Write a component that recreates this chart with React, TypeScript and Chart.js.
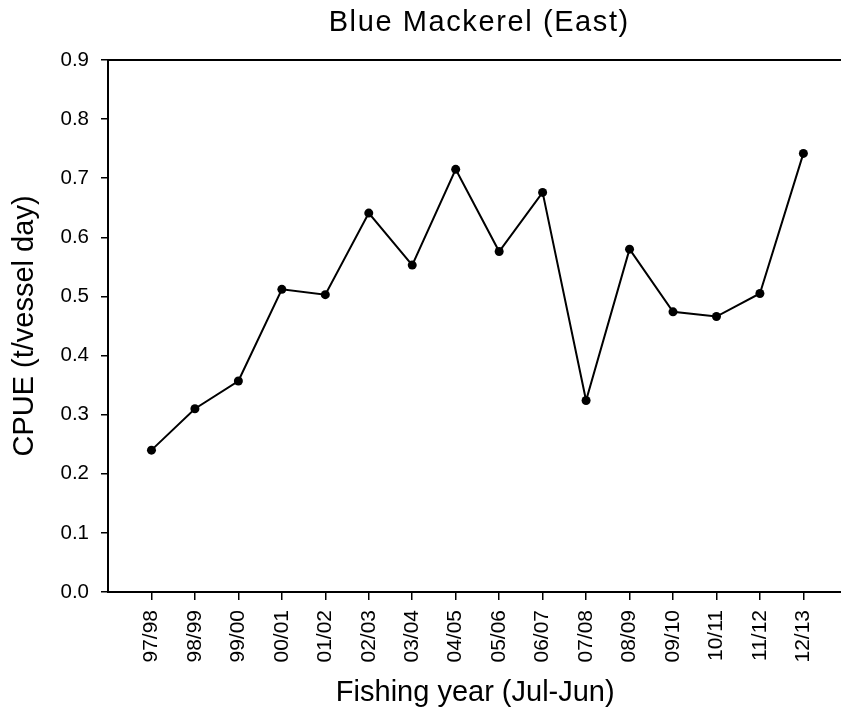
import React, { useEffect, useRef } from "react";
import { Chart, registerables } from "chart.js";

Chart.register(...registerables);

const TITLE = "Blue Mackerel (East)";
const X_TITLE = "Fishing year (Jul-Jun)";
const Y_TITLE = "CPUE (t/vessel day)";

const categories = [
  "97/98", "98/99", "99/00", "00/01", "01/02", "02/03", "03/04", "04/05",
  "05/06", "06/07", "07/08", "08/09", "09/10", "10/11", "11/12", "12/13",
];

const cpue = [
  0.240, 0.310, 0.357, 0.512, 0.503, 0.641, 0.553, 0.715,
  0.576, 0.676, 0.324, 0.580, 0.474, 0.466, 0.505, 0.742,
];

const yTicks = [0, 0.1, 0.2, 0.3, 0.4, 0.5, 0.6, 0.7, 0.8, 0.9];

const FONT = '"Liberation Sans", Arial, sans-serif';

const framePlugin = {
  id: "frameAndTitle",
  afterDraw(chart: any) {
    const { ctx, chartArea } = chart;
    ctx.save();
    ctx.strokeStyle = "#000";
    ctx.lineWidth = 2;
    ctx.beginPath();
    ctx.moveTo(chartArea.left, chartArea.top);
    ctx.lineTo(chartArea.right, chartArea.top);
    ctx.stroke();
    ctx.font = `29px ${FONT}`;
    try { (ctx as any).letterSpacing = "1.6px"; } catch (e) {}
    ctx.fillStyle = "#000";
    ctx.textAlign = "center";
    ctx.textBaseline = "alphabetic";
    ctx.fillText(TITLE, (chartArea.left + chartArea.right) / 2 + 4, 31);
    ctx.restore();
  },
};

export default function App() {
  const ref = useRef<HTMLCanvasElement | null>(null);

  useEffect(() => {
    if (!ref.current) return;
    Chart.defaults.font.family = FONT;
    const chart = new Chart(ref.current, {
      type: "line",
      data: {
        datasets: [
          {
            data: cpue.map((v, i) => ({ x: i, y: v })),
            borderColor: "#000",
            borderWidth: 2,
            pointRadius: 4.5,
            pointBackgroundColor: "#000",
            pointBorderWidth: 0,
            tension: 0,
          },
        ],
      },
      options: {
        responsive: false,
        animation: false,
        layout: { padding: { top: 60, left: 0, right: 0, bottom: 0 } },
        plugins: {
          legend: { display: false },
          tooltip: { enabled: false },
          title: { display: false },
        },
        scales: {
          x: {
            type: "linear",
            min: -1,
            max: 15.9,
            afterBuildTicks: (scale: any) => {
              scale.ticks = categories.map((_, i) => ({ value: i }));
            },
            afterFit: (scale: any) => {
              scale.height = 121;
              scale.paddingLeft = 0;
              scale.paddingRight = 0;
            },
            ticks: {
              autoSkip: false,
              minRotation: 90,
              maxRotation: 90,
              padding: 10,
              color: "#000",
              font: { size: 21 },
              callback: (value: any) => categories[Math.round(Number(value))] ?? "",
            },
            grid: {
              drawOnChartArea: false,
              drawTicks: true,
              tickLength: 8,
              color: "#000",
              lineWidth: 1.5,
            },
            border: { color: "#000", width: 2 },
            title: {
              display: true,
              text: X_TITLE,
              color: "#000",
              font: { size: 29 },
              padding: { top: 0, bottom: 3 },
            },
          },
          y: {
            type: "linear",
            min: 0,
            max: 0.9,
            afterBuildTicks: (scale: any) => {
              scale.ticks = yTicks.map((v) => ({ value: v }));
            },
            afterFit: (scale: any) => {
              scale.width = 108;
              scale.paddingTop = 0;
              scale.paddingBottom = 0;
            },
            ticks: {
              padding: 12,
              color: "#000",
              font: { size: 20.5 },
              callback: (value: any) => Number(value).toFixed(1),
            },
            grid: {
              drawOnChartArea: false,
              drawTicks: true,
              tickLength: 7,
              color: "#000",
              lineWidth: 1.5,
            },
            border: { color: "#000", width: 2 },
            title: {
              display: true,
              text: Y_TITLE,
              color: "#000",
              font: { size: 29 },
              padding: { top: 8, bottom: 0 },
            },
          },
        },
      },
      plugins: [framePlugin],
    } as any);
    return () => chart.destroy();
  }, []);

  return (
    <div style={{ position: "absolute", left: 0, top: 0, width: 841, height: 713, overflow: "hidden", background: "#fff" }}>
      <canvas ref={ref} width={847} height={713} style={{ display: "block" }} />
    </div>
  );
}
